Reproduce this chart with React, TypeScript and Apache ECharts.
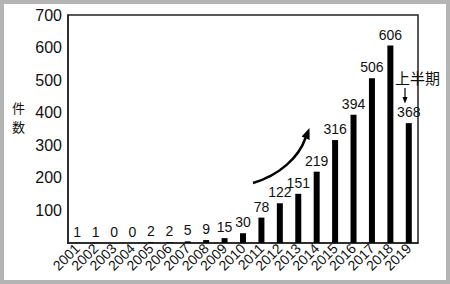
import React, { useEffect, useRef } from "react";
import * as echarts from "echarts";

const years = ["2001","2002","2003","2004","2005","2006","2007","2008","2009","2010","2011","2012","2013","2014","2015","2016","2017","2018","2019"];
const counts = [1, 1, 0, 0, 2, 2, 5, 9, 15, 30, 78, 122, 151, 219, 316, 394, 506, 606, 368];
const yTicks = [0, 100, 200, 300, 400, 500, 600, 700];
const yNameChars = ["件", "数"];
const note = "上半期";

const FONT = "'Liberation Sans', Arial, 'Noto Sans CJK JP', sans-serif";
const CJK = "'Noto Sans CJK JP', sans-serif";

export default function App() {
  const ref = useRef<HTMLDivElement>(null);
  useEffect(() => {
    document.body.style.margin = "0";
    const chart = echarts.init(ref.current!, null, { renderer: "svg" });
    chart.setOption({
      animation: false,
      textStyle: { fontFamily: FONT },
      grid: {
        left: 68, top: 15, right: 32, bottom: 41,
        show: true, borderColor: "#222", borderWidth: 1.5, backgroundColor: "transparent",
      },
      xAxis: {
        type: "category",
        data: years,
        axisLine: { lineStyle: { color: "#222", width: 1.5 } },
        axisTick: { show: false },
        axisLabel: { rotate: 45, fontSize: 14, color: "#111", margin: 3, interval: 0, fontFamily: FONT },
      },
      yAxis: {
        type: "value",
        min: yTicks[0],
        max: yTicks[yTicks.length - 1],
        interval: 100,
        splitLine: { show: false },
        axisLine: { show: true, lineStyle: { color: "#222", width: 1.5 } },
        axisTick: { show: false },
        axisLabel: {
          fontSize: 16, color: "#111", margin: 6, fontFamily: FONT,
          formatter: (v: number) => (v === 0 ? "" : String(v)),
        },
      },
      series: [
        {
          type: "bar",
          data: counts,
          barWidth: 6,
          itemStyle: { color: "#000" },
          label: { show: true, position: "top", distance: 4, fontSize: 14, color: "#111", fontFamily: FONT },
        },
      ],
      graphic: [
        {
          type: "text",
          x: 12, y: 101,
          style: { text: yNameChars[0], fontSize: 13, lineHeight: 13, fill: "#111", fontFamily: CJK, verticalAlign: "top" },
        },
        {
          type: "text",
          x: 12, y: 120,
          style: { text: yNameChars[1], fontSize: 13, lineHeight: 13, fill: "#111", fontFamily: CJK, verticalAlign: "top" },
        },
        {
          type: "bezierCurve",
          shape: { x1: 253, y1: 183, cpx1: 280, cpy1: 175, cpx2: 299, cpy2: 157, x2: 305.5, y2: 138 },
          style: { stroke: "#000", lineWidth: 2.5, fill: "none" },
          z: 10,
        },
        {
          type: "polygon",
          shape: { points: [[309.5, 128], [309.6, 140], [301.6, 136.5]] },
          style: { fill: "#000" },
          z: 10,
        },
        {
          type: "text",
          x: 395, y: 70,
          style: { text: note, fontSize: 15, fill: "#111", fontFamily: CJK },
          z: 10,
        },
        {
          type: "line",
          shape: { x1: 405, y1: 88, x2: 405, y2: 98 },
          style: { stroke: "#000", lineWidth: 1.2 },
          z: 10,
        },
        {
          type: "polygon",
          shape: { points: [[402.5, 97], [407.5, 97], [405, 103.5]] },
          style: { fill: "#000" },
          z: 10,
        },
      ],
    });
    return () => chart.dispose();
  }, []);
  return (
    <div style={{ position: "relative", width: 450, height: 284, background: "#b4b4b4" }}>
      <div style={{ position: "absolute", left: 4, top: 4, width: 442, height: 276, background: "#fff" }} />
      <div ref={ref} style={{ position: "absolute", left: 0, top: 0, width: 450, height: 284 }} />
    </div>
  );
}
